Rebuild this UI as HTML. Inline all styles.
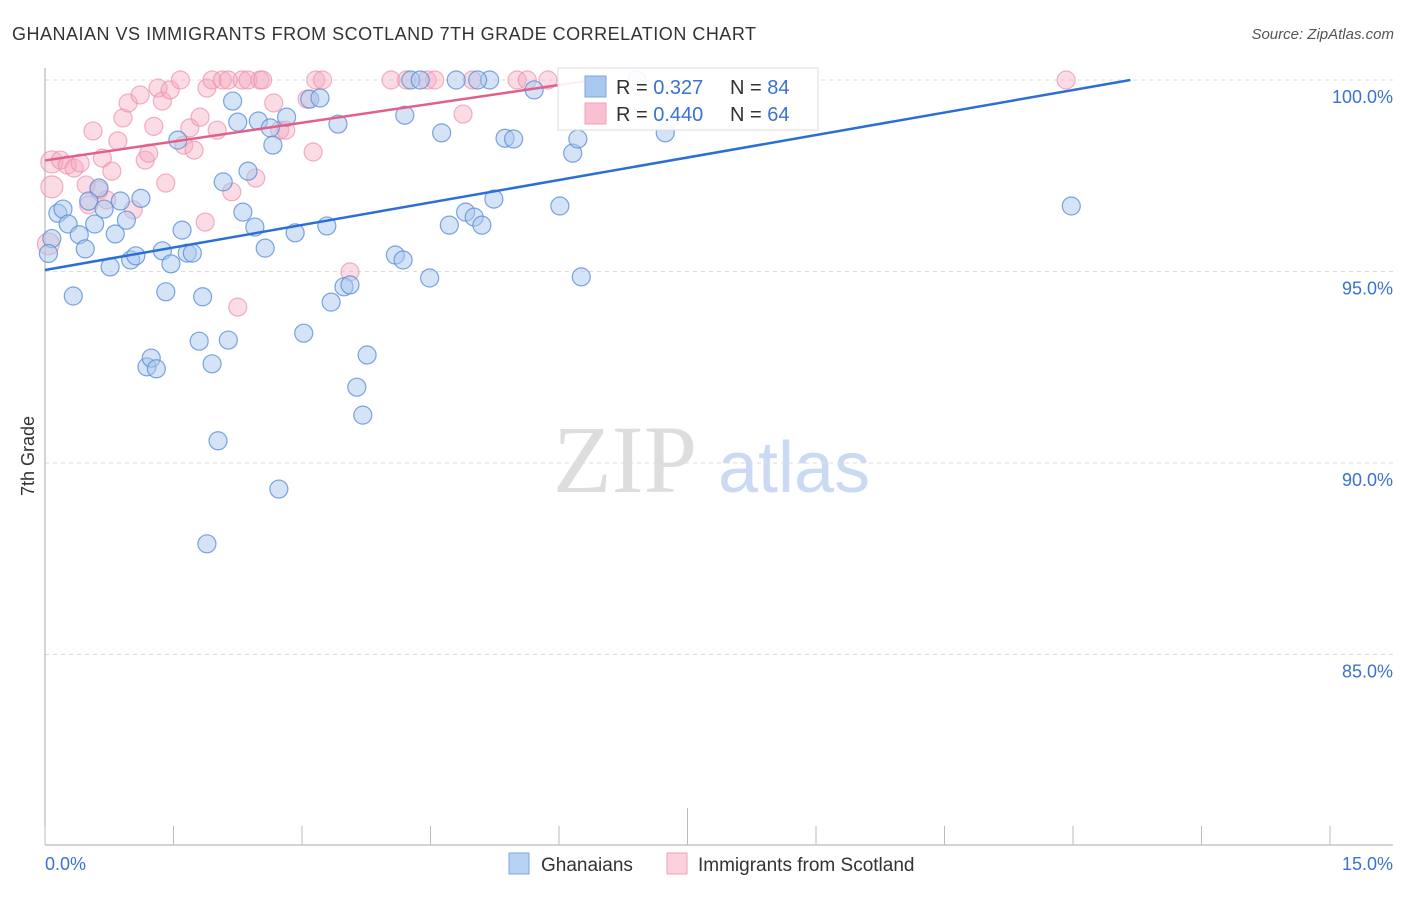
<!DOCTYPE html>
<html><head><meta charset="utf-8"><style>
body{margin:0;background:#fff;font-family:"Liberation Sans",sans-serif}
</style></head><body>
<svg id="chart" width="1406" height="892" xmlns="http://www.w3.org/2000/svg" font-family="Liberation Sans, sans-serif">
<text x="12" y="40" font-size="18" fill="#333" textLength="744">GHANAIAN VS IMMIGRANTS FROM SCOTLAND 7TH GRADE CORRELATION CHART</text>
<text x="1394" y="39" font-size="15" fill="#555" text-anchor="end" font-style="italic">Source: ZipAtlas.com</text>
<text x="553" y="492" font-size="96" fill="#ddd" style="font-family:'Liberation Serif',serif">ZIP</text>
<text x="718" y="492" font-size="72" fill="#c9daf2">atlas</text>
<text x="34" y="456" font-size="18" fill="#333" text-anchor="middle" transform="rotate(-90 34 456)">7th Grade</text>
<g id="grid"></g>
<g id="pts"></g>
<g id="lines"></g>
<g>
<rect x="558" y="68" width="260" height="62" fill="#fff" fill-opacity="0.9" stroke="#ddd"/>
<rect x="585" y="76" width="21" height="21" fill="#a9c8ee" stroke="#7aa6e0"/>
<rect x="585" y="103" width="21" height="21" fill="#f8c0d0" stroke="#f0a0b8"/>
<text x="616" y="94" font-size="20" fill="#333">R = <tspan fill="#3a72d0"> 0.327</tspan></text>
<text x="730" y="94" font-size="20" fill="#333">N = <tspan fill="#3a72d0">84</tspan></text>
<text x="616" y="121" font-size="20" fill="#333">R = <tspan fill="#3a72d0">0.440</tspan></text>
<text x="730" y="121" font-size="20" fill="#333">N = <tspan fill="#3a72d0">64</tspan></text>
</g>
<g>
<rect x="509" y="853" width="20" height="21" fill="#b8d2f4" stroke="#7aa6e0"/>
<text x="541" y="871" font-size="19" fill="#333">Ghanaians</text>
<rect x="667" y="853" width="20" height="21" fill="#fcd0dc" stroke="#f0a0b8"/>
<text x="698" y="871" font-size="19" fill="#333">Immigrants from Scotland</text>
</g>
</svg>
<script>
const yTicks=[100,95,90,85];
const yTickLabels=["100.0%","95.0%","90.0%","85.0%"];
const xTickCount=10;
const xEndLabels=["0.0%","15.0%"];
const blueX=[0.08,0.04,0.15,0.21,0.27,0.33,0.40,0.47,0.51,0.58,0.63,0.69,0.76,0.82,0.88,0.95,1.00,1.06,1.12,1.37,1.41,1.47,1.19,1.24,1.30,1.55,1.60,1.66,1.72,1.80,1.84,1.89,1.95,2.02,2.08,2.14,2.19,2.25,2.31,2.37,2.45,2.49,2.57,2.63,2.66,2.73,2.82,2.92,3.02,3.09,3.21,3.29,3.34,3.42,3.49,3.56,3.64,3.71,3.76,4.09,4.18,4.20,4.27,4.38,4.49,4.63,4.72,4.80,4.91,5.01,5.10,5.19,5.05,5.24,5.37,5.47,5.71,6.01,6.16,6.22,6.26,6.91,7.24,11.98];
const blueY=[95.86,95.47,96.52,96.63,96.24,94.36,95.96,95.59,96.84,96.24,97.18,96.63,95.12,95.98,96.84,96.34,95.30,95.41,96.91,95.54,94.47,95.20,92.51,92.74,92.46,98.43,96.08,95.48,95.48,93.18,94.34,87.89,92.59,90.58,97.34,93.21,99.45,98.90,96.55,97.62,96.16,98.93,95.61,98.75,98.30,89.32,99.03,96.01,93.39,99.50,99.53,96.19,94.20,98.85,94.60,94.65,91.98,91.25,92.82,95.43,95.30,99.08,100.0,100.0,94.83,98.62,96.21,100.0,96.55,96.42,96.21,100.0,100.0,96.89,98.48,98.46,99.74,96.71,98.09,98.46,94.86,100.0,98.62,96.71];
const pinkX=[0.08,0.08,0.04,0.18,0.26,0.34,0.41,0.48,0.51,0.56,0.63,0.67,0.72,0.78,0.85,0.91,0.97,1.03,1.11,1.17,1.21,1.27,1.32,1.37,1.41,1.46,1.58,1.62,1.69,1.74,1.81,1.87,1.89,1.95,2.01,2.07,2.14,2.18,2.25,2.30,2.37,2.46,2.51,2.54,2.67,2.74,2.81,3.06,3.13,3.16,3.24,3.56,4.04,4.22,4.46,4.55,4.88,4.99,5.51,5.63,5.87,11.92];
const pinkY=[97.86,97.21,95.72,97.91,97.78,97.70,97.83,97.26,96.74,98.67,97.13,97.96,96.87,97.62,98.41,99.01,99.40,96.61,99.61,97.91,98.09,98.79,99.79,99.45,97.31,99.74,100.0,98.30,98.75,98.17,99.03,96.29,99.79,100.0,98.69,100.0,100.0,97.08,94.07,100.0,100.0,97.44,100.0,100.0,99.40,98.69,98.69,99.50,98.12,100.0,100.0,94.99,100.0,100.0,100.0,100.0,99.11,100.0,100.0,100.0,100.0,100.0];
const blueTrend=[[0,95.04],[12.67,100]];
const pinkTrend=[[0,97.9],[6.4,100]];
const NS="http://www.w3.org/2000/svg";
const X0=45,X1=1330,Y100=80,PX_PER_PCT=191.5/5;
const sx=v=>X0+v/15*(X1-X0);
const sy=v=>Y100+(100-v)*PX_PER_PCT;
function mk(tag,attrs,parent){const e=document.createElementNS(NS,tag);for(const k in attrs)e.setAttribute(k,attrs[k]);parent.appendChild(e);return e;}
const grid=document.getElementById('grid');
yTicks.forEach((t,i)=>{
 const l=mk('line',{x1:45,x2:1393,y1:sy(t),y2:sy(t),stroke:'#ddd','stroke-dasharray':'4,4'},grid);
 
 
 const tx=mk('text',{x:1393,y:sy(t)+23,'font-size':18,fill:'#3a72d0','text-anchor':'end'},grid);
 tx.textContent=yTickLabels[i];
 
 
});
const ya=mk('line',{x1:45,x2:45,y1:68,y2:845,stroke:'#aaa'},grid);


const xa=mk('line',{x1:45,x2:1393,y1:845,y2:845,stroke:'#aaa'},grid);


for(let i=0;i<=xTickCount;i++){
 const v=i*15/xTickCount;
 const tk=mk('line',{x1:sx(v),x2:sx(v),y1:i==5?808:826,y2:845,stroke:'#bbb'},grid);
 
 
}
const xl0=mk('text',{x:45,y:870,'font-size':18,fill:'#3a72d0'},grid);xl0.textContent=xEndLabels[0];


const xl1=mk('text',{x:1393,y:870,'font-size':18,fill:'#3a72d0','text-anchor':'end'},grid);xl1.textContent=xEndLabels[1];


const pts=document.getElementById('pts');
pinkX.forEach((x,i)=>{
 const c=mk('circle',{cx:sx(x),cy:sy(pinkY[i]),r:(x<0.1?11:9),fill:'#f4a8bf','fill-opacity':0.4,stroke:'#ec8fab','stroke-opacity':0.7,'stroke-width':1.2},pts);
 
 
});
blueX.forEach((x,i)=>{
 const c=mk('circle',{cx:sx(x),cy:sy(blueY[i]),r:9,fill:'#a9c8ee','fill-opacity':0.5,stroke:'#5b8fd8','stroke-opacity':0.8,'stroke-width':1.2},pts);
 
 
});
const lines=document.getElementById('lines');
const bl=mk('line',{x1:sx(blueTrend[0][0]),y1:sy(blueTrend[0][1]),x2:sx(blueTrend[1][0]),y2:sy(blueTrend[1][1]),stroke:'#2a6fd6','stroke-width':2.5},lines);


const pl=mk('line',{x1:sx(pinkTrend[0][0]),y1:sy(pinkTrend[0][1]),x2:sx(pinkTrend[1][0]),y2:sy(pinkTrend[1][1]),stroke:'#e0608a','stroke-width':2.5},lines);


</script>
</body></html>
